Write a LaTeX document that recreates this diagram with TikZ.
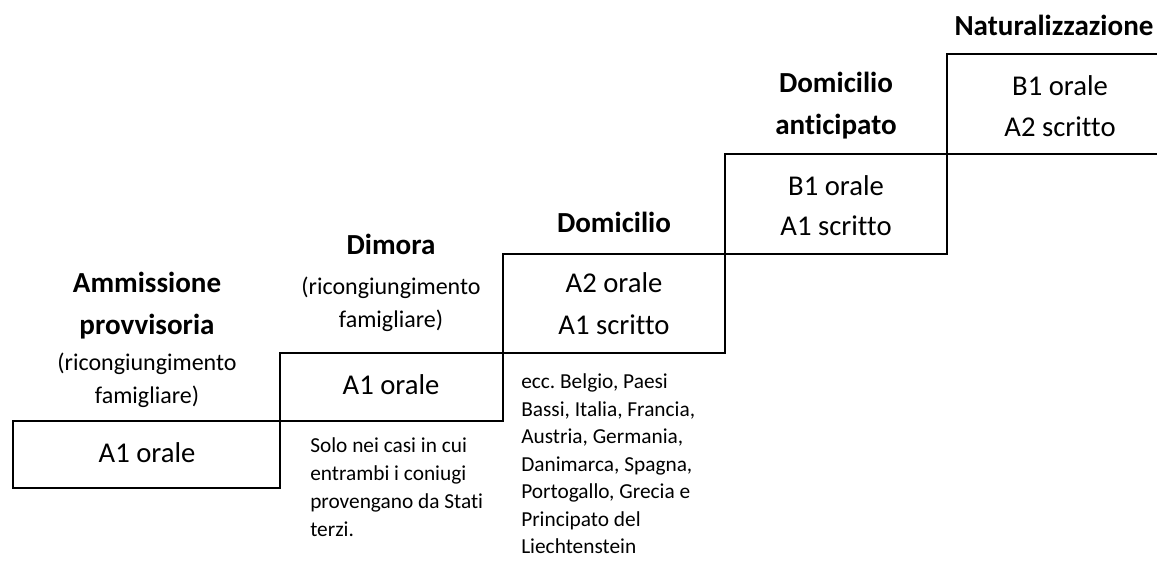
\documentclass[tikz,border=0pt]{standalone}
\usepackage{fontspec}
\setmainfont{Carlito}[Ligatures={NoCommon,NoRare,NoContextual}]
\frenchspacing
\begin{document}
\begin{tikzpicture}[x=0.75pt,y=-0.75pt,
  box/.style={draw=black,line width=1.5pt},
  big/.style={font=\fontsize{21.5}{25}\selectfont,anchor=base,inner sep=0pt},
  ttl/.style={font=\fontsize{21.8}{25}\selectfont\bfseries,anchor=base,inner sep=0pt},
  mid/.style={font=\fontsize{18}{21}\selectfont,anchor=base,inner sep=0pt},
  note/.style={font=\fontsize{16}{19}\selectfont,anchor=base west,inner sep=0pt}]
\clip (0,0) rectangle (1157,568);
\fill[white] (0,0) rectangle (1157,568);
% steps
\draw[box] (13,421) rectangle (280,488);
\draw[box] (280,353) rectangle (503,421);
\draw[box] (503,254) rectangle (725,353);
\draw[box] (725,154) rectangle (947,254);
\draw[box] (947,54) rectangle (1173,154);
% step 1
\node[ttl] (t1a) at (147,292) {Ammissione};
\node[ttl] (t1b) at (147,334) {provvisoria};
\node[mid] (t1c) at (147,370) {(ricongiungimento};
\node[mid] (t1d) at (147,403) {famigliare)};
\node[big] (b1) at (147,462) {A1 orale};
% step 2
\node[ttl] (t2a) at (391,254) {Dimora};
\node[mid] (t2b) at (391,294) {(ricongiungimento};
\node[mid] (t2c) at (391,327) {famigliare)};
\node[big] (b2) at (391,394) {A1 orale};
% step 3
\node[ttl] (t3a) at (614,232) {Domicilio};
\node[big] (b3a) at (614,292) {A2 orale};
\node[big] (b3b) at (614,334) {A1 scritto};
% step 4
\node[ttl] (t4a) at (836,92) {Domicilio};
\node[ttl] (t4b) at (836,134) {anticipato};
\node[big] (b4a) at (836,195) {B1 orale};
\node[big] (b4b) at (836,235) {A1 scritto};
% step 5
\node[ttl] (t5a) at (1054,35) {Naturalizzazione};
\node[big] (b5a) at (1060,95) {B1 orale};
\node[big] (b5b) at (1060,136) {A2 scritto};
% notes
\node[note] (n1) at (310,452) {Solo nei casi in cui};
\node[note] (n2) at (310,480) {entrambi i coniugi};
\node[note] (n3) at (310,508) {provengano da Stati};
\node[note] (n4) at (310,536) {terzi.};
\node[note] (m1) at (521,388) {ecc. Belgio, Paesi};
\node[note] (m2) at (521,416) {Bassi, Italia, Francia,};
\node[note] (m3) at (521,443) {Austria, Germania,};
\node[note] (m4) at (521,471) {Danimarca, Spagna,};
\node[note] (m5) at (521,498) {Portogallo, Grecia e};
\node[note] (m6) at (521,526) {Principato del};
\node[note] (m7) at (521,553) {Liechtenstein};
\end{tikzpicture}
\end{document}
